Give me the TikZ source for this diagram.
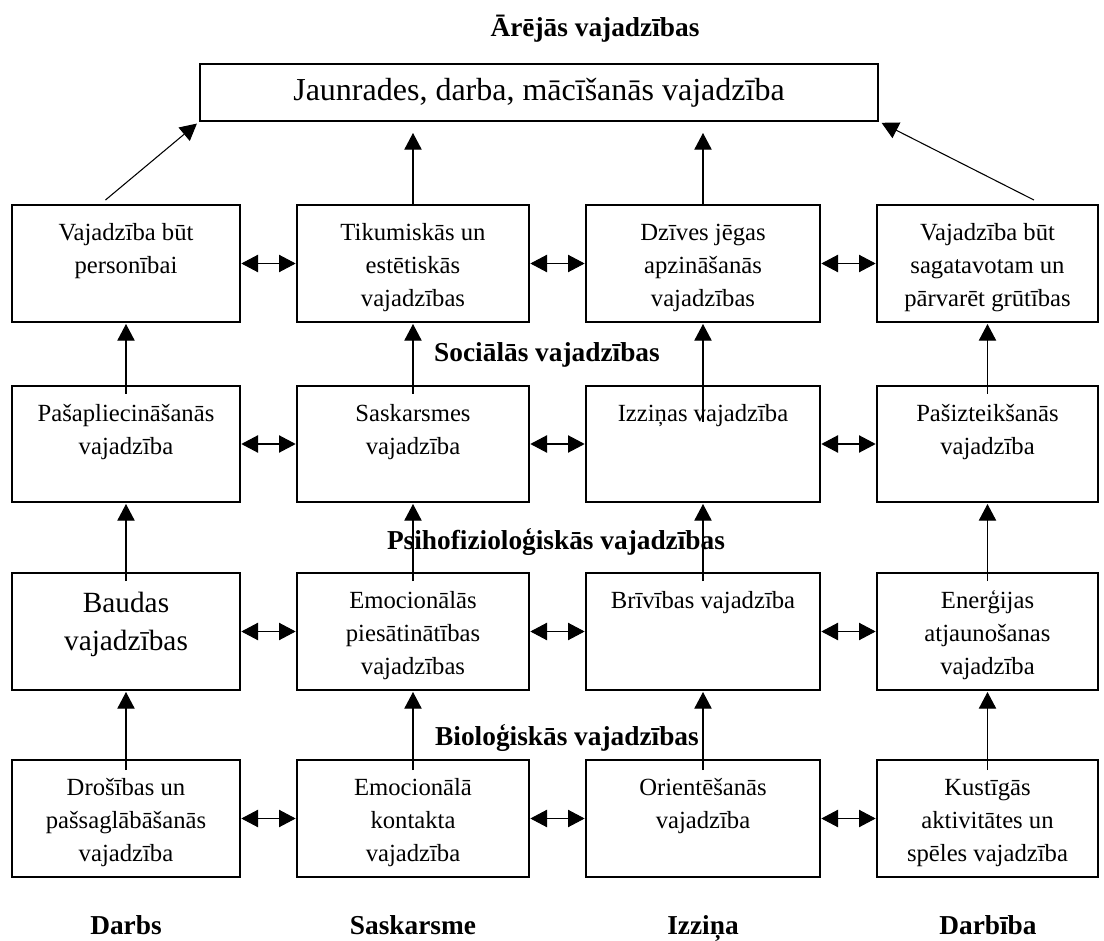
\documentclass[tikz,border=0pt]{standalone}
\usepackage{fontspec}
\setmainfont{Liberation Serif}
\usetikzlibrary{arrows.meta,calc}
\newcommand{\needbox}[7]{%
  \node[needbox, minimum width={(#4-#2)*0.75pt}, minimum height={(#5-#3)*0.75pt}] (#1) at ({(#2+#4)/2},{(#3+#5)/2})
  {\parbox[c][\dimexpr(#5pt-#3pt)*3/4\relax][t]{\dimexpr(#4pt-#2pt)*3/4\relax}{\centering\vspace*{9pt}#6#7\par}};}
\newcommand{\bxfont}{\fontsize{18.5}{24.75}\selectfont\strut}
\newcommand{\bigfont}{\fontsize{22}{29}\selectfont\strut}
\begin{document}
\begin{tikzpicture}[x=0.75pt,y=-0.75pt,
  needbox/.style={draw, line width=0.9pt, inner sep=0pt, outer sep=0pt},
  lbl/.style={font=\fontsize{20.5}{23}\selectfont\bfseries, inner sep=0pt},
  up/.style={-{Triangle[length=12.5pt,width=13pt]}, line width=0.8pt, shorten >=1.5pt},
  both/.style={{Triangle[length=12.5pt,width=13pt]}-{Triangle[length=12.5pt,width=13pt]}, line width=0.8pt, shorten >=1pt, shorten <=1pt}]
\useasboundingbox (0,0) rectangle (1104,941);
\fill[white] (0,0) rectangle (1104,941);

% title and top box
\node[lbl, anchor=base] (title) at (595,37) {Ārējās vajadzības};
\node[needbox, minimum width={678*0.75pt}, minimum height={57*0.75pt}, font=\fontsize{24}{27}\selectfont] (top) at (539,92.5) {Jaunrades, darba, mācīšanās vajadzība};

% row 1
\needbox{a1}{12}{205}{240}{322}{\bxfont}{Vajadzība būt\\personībai}
\needbox{a2}{297}{205}{529}{322}{\bxfont}{Tikumiskās un\\estētiskās\\vajadzības}
\needbox{a3}{586}{205}{820}{322}{\bxfont}{Dzīves jēgas\\apzināšanās\\vajadzības}
\needbox{a4}{877}{205}{1098}{322}{\bxfont}{Vajadzība būt\\sagatavotam un\\pārvarēt grūtības}
% row 2
\needbox{b1}{12}{386}{240}{502}{\bxfont}{Pašapliecināšanās\\vajadzība}
\needbox{b2}{297}{386}{529}{502}{\bxfont}{Saskarsmes\\vajadzība}
\needbox{b3}{586}{386}{820}{502}{\bxfont}{Izziņas vajadzība}
\needbox{b4}{877}{386}{1098}{502}{\bxfont}{Pašizteikšanās\\vajadzība}
% row 3
\needbox{c1}{12}{573}{240}{690}{\bigfont}{Baudas\\vajadzības}
\needbox{c2}{297}{573}{529}{690}{\bxfont}{Emocionālās\\piesātinātības\\vajadzības}
\needbox{c3}{586}{573}{820}{690}{\bxfont}{Brīvības vajadzība}
\needbox{c4}{877}{573}{1098}{690}{\bxfont}{Enerģijas\\atjaunošanas\\vajadzība}
% row 4
\needbox{d1}{12}{760}{240}{877}{\bxfont}{Drošības un\\pašsaglābāšanās\\vajadzība}
\needbox{d2}{297}{760}{529}{877}{\bxfont}{Emocionālā\\kontakta\\vajadzība}
\needbox{d3}{586}{760}{820}{877}{\bxfont}{Orientēšanās\\vajadzība}
\needbox{d4}{877}{760}{1098}{877}{\bxfont}{Kustīgās\\aktivitātes un\\spēles vajadzība}

% level labels
\node[lbl, anchor=base] (soc) at (547,362) {Sociālās vajadzības};
\node[lbl, anchor=base] (psi) at (556,549) {Psihofizioloģiskās vajadzības};
\node[lbl, anchor=base] (bio) at (567,745) {Bioloģiskās vajadzības};

% bottom labels
\node[lbl, anchor=base] (l1) at (126,934) {Darbs};
\node[lbl, anchor=base] (l2) at (413,934) {Saskarsme};
\node[lbl, anchor=base] (l3) at (703,934) {Izziņa};
\node[lbl, anchor=base] (l4) at (988,934) {Darbība};

% horizontal double arrows
\foreach \r in {a,b,c,d}{
  \draw[both] (\r1.east) -- (\r2.west);
  \draw[both] (\r2.east) -- (\r3.west);
  \draw[both] (\r3.east) -- (\r4.west);
}

% vertical arrows between rows
\foreach \c in {1,2,3,4}{
  \draw[up] ($(d\c.north)+(0,10)$) -- (c\c.south);
  \draw[up] ($(c\c.north)+(0,8)$) -- (b\c.south);
}
\draw[up] ($(b1.north)+(0,8)$) -- (a1.south);
\draw[up] ($(b2.north)+(0,8)$) -- (a2.south);
\draw[up] ($(b3.north)+(0,36)$) -- (a3.south);
\draw[up] ($(b4.north)+(0,8)$) -- (a4.south);

% to top box
\draw[up, shorten >=9pt] (a2.north) -- (a2.north |- top.south);
\draw[up, shorten >=9pt] (a3.north) -- (a3.north |- top.south);
\draw[up, shorten >=3pt] ($(a1.north west)!0.41!(a1.north east)+(0,-5)$) -- (top.south west);
\draw[up, shorten >=3pt] ($(a4.north west)!0.71!(a4.north east)+(0,-5)$) -- (top.south east);
\end{tikzpicture}
\end{document}
